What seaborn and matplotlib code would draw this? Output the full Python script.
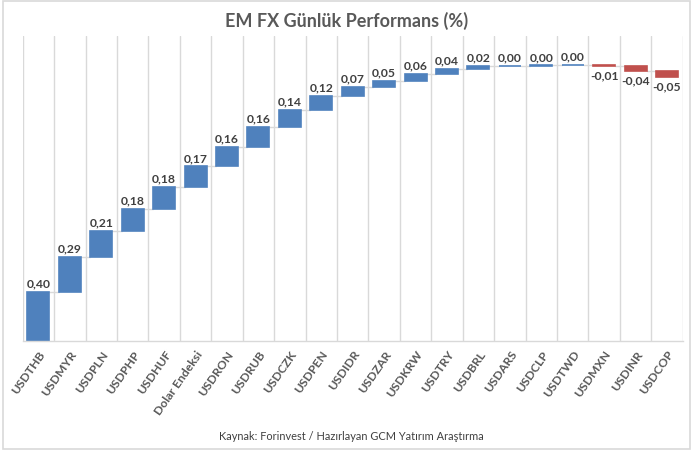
import numpy as np
import pandas as pd
import matplotlib.pyplot as plt
import seaborn as sns
from matplotlib.patches import Rectangle

# EM FX daily performance (%), waterfall order as in the source
currencies = ['USDTHB', 'USDMYR', 'USDPLN', 'USDPHP', 'USDHUF', 'Dolar Endeksi',
              'USDRON', 'USDRUB', 'USDCZK', 'USDPEN', 'USDIDR', 'USDZAR', 'USDKRW',
              'USDTRY', 'USDBRL', 'USDARS', 'USDCLP', 'USDTWD', 'USDMXN', 'USDINR',
              'USDCOP']
changes = [0.40, 0.29, 0.21, 0.18, 0.18, 0.17, 0.16, 0.16, 0.14, 0.12, 0.07,
           0.05, 0.06, 0.04, 0.02, 0.004, 0.003, 0.002, -0.01, -0.04, -0.05]

title = 'EM FX Günlük Performans (%)'
source = 'Kaynak: Forinvest / Hazırlayan GCM Yatırım Araştırma'

UP = '#4F81BD'
DOWN = '#C0504D'
GRID = '#D9D9D9'


def fmt(v):
    return f'{v:.2f}'.replace('.', ',')


def main():
    sns.set_style('white')
    plt.rcParams['font.family'] = ['Lato', 'DejaVu Sans']

    df = pd.DataFrame({'currency': currencies, 'change': changes})
    df['start'] = df['change'].cumsum() - df['change']
    df['end'] = df['change'].cumsum()

    fig = plt.figure(figsize=(6.94, 4.56), dpi=100)
    ax = fig.add_axes([0.0327, 0.25, 0.951, 0.6695])

    sns.barplot(data=df, x='currency', y='change', order=currencies,
                bottom=df['start'].to_numpy(), width=0.7, color=UP,
                linewidth=1.2, ax=ax)
    for patch, v in zip(ax.patches, df['change']):
        c = UP if v >= 0 else DOWN
        patch.set_facecolor(c)
        patch.set_edgecolor(c)

    # connectors between bars
    for i in range(len(df) - 1):
        lvl = df['end'].iloc[i]
        ax.plot([i + 0.35, i + 0.65], [lvl, lvl], color=GRID, lw=1, zorder=0)

    # value labels
    for i, row in df.iterrows():
        if row['change'] >= 0:
            ax.annotate(fmt(row['change']), (i, row['end']), xytext=(0, 2.5),
                        textcoords='offset points', ha='center', va='bottom',
                        fontsize=8.7, fontweight='bold', color='#404040')
        else:
            ax.annotate(fmt(row['change']), (i, row['end']), xytext=(0, -2.5),
                        textcoords='offset points', ha='center', va='top',
                        fontsize=8.7, fontweight='bold', color='#404040')

    ax.set_xlim(-0.5, len(df) - 0.5)
    ax.set_ylim(0, 2.5)
    ax.set_yticks([])
    ax.set_xlabel('')
    ax.set_ylabel('')
    ax.set_xticks(np.arange(-0.5, len(df)), minor=True)
    ax.grid(which='minor', axis='x', color=GRID, lw=1)
    ax.tick_params(axis='x', which='minor', length=0)
    ax.tick_params(axis='x', which='major', length=0, pad=5)
    ax.set_axisbelow(True)
    plt.setp(ax.get_xticklabels(), rotation=55, ha='right', rotation_mode='anchor',
             fontsize=8.7, fontweight='bold', color='#595959')
    for side in ['left', 'right', 'top']:
        ax.spines[side].set_visible(False)
    ax.spines['bottom'].set_color(GRID)
    ax.spines['bottom'].set_linewidth(1)

    fig.text(0.5, 0.954, title, ha='center', va='center', fontsize=13,
             fontweight='bold', color='#595959')
    fig.text(0.507, 0.042, source, ha='center', va='center', fontsize=7.9,
             color='#404040')

    fig.patches.append(Rectangle((3 / 694, 6 / 456), 687 / 694, 448 / 456,
                                 transform=fig.transFigure, fill=False,
                                 edgecolor=GRID, lw=1.2))

    fig.savefig('out.png', dpi=100)
    plt.close(fig)


if __name__ == '__main__':
    main()
